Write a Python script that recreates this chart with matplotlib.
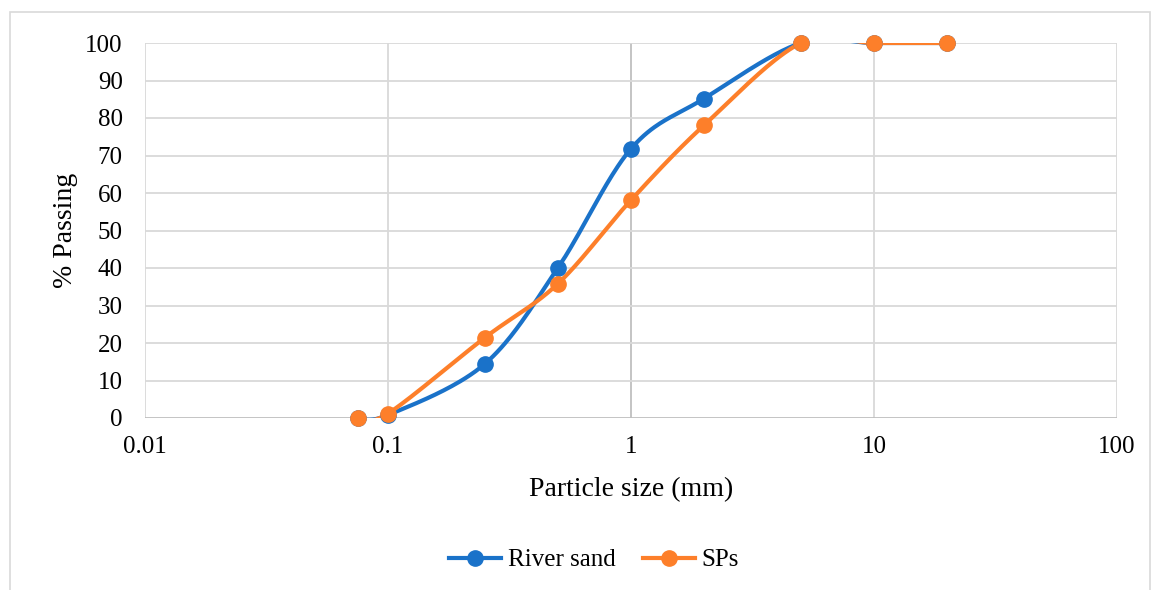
import numpy as np
import matplotlib
matplotlib.use("Agg")
import matplotlib.pyplot as plt
from matplotlib.patches import Rectangle

plt.rcParams['font.family'] = ['Liberation Serif', 'DejaVu Serif']

sizes = [0.075, 0.1, 0.25, 0.5, 1, 2, 5, 10, 20]
river_sand = [0, 0.8, 14.4, 40, 71.8, 85.2, 100, 100, 100]
sps = [0, 1.2, 21.4, 35.8, 58.1, 78.1, 100, 100, 100]
x_ticks = [0.01, 0.1, 1, 10, 100]
x_tick_labels = ["0.01", "0.1", "1", "10", "100"]
y_ticks = list(range(0, 101, 10))

blue = "#1a72c9"
orange = "#fd7f2a"


def smooth(xs, ys, n=40):
    # Catmull-Rom style smoothing in (log10 x, y) space, like Excel's smoothed lines
    lx = np.log10(np.asarray(xs, float))
    y = np.asarray(ys, float)
    P = np.column_stack([lx, y])
    out = []
    for i in range(len(P) - 1):
        p0 = P[i - 1] if i > 0 else P[i]
        p1 = P[i]
        p2 = P[i + 1]
        p3 = P[i + 2] if i + 2 < len(P) else P[i + 1]
        c1 = p1 + (p2 - p0) / 6.0
        c2 = p2 - (p3 - p1) / 6.0
        t = np.linspace(0, 1, n)[:, None]
        seg = ((1 - t) ** 3) * p1 + 3 * ((1 - t) ** 2) * t * c1 + 3 * (1 - t) * t ** 2 * c2 + t ** 3 * p2
        out.append(seg if i == 0 else seg[1:])
    S = np.vstack(out)
    return 10 ** S[:, 0], S[:, 1]


fig = plt.figure(figsize=(11.57, 5.9), dpi=100)
fig.patches.append(Rectangle((10 / 1157, -0.05), (1150 - 10) / 1157, 1.05 - 12 / 590,
                             transform=fig.transFigure, fill=False,
                             edgecolor="#d9d9d9", linewidth=1.2))
ax = fig.add_axes([145 / 1157, 1 - 418 / 590, (1117 - 145) / 1157, (418 - 43) / 590])

ax.set_xscale("log")
ax.set_xlim(0.01, 100)
ax.set_ylim(0, 100)

for xv in x_ticks:
    ax.axvline(xv, color="#bfbfbf" if xv == 1 else "#d9d9d9", lw=1.3, zorder=0)
for yv in y_ticks:
    ax.axhline(yv, color="#bfbfbf" if yv == 0 else "#d9d9d9", lw=1.3, zorder=0)

for vals, col, lab in [(river_sand, blue, "River sand"), (sps, orange, "SPs")]:
    sx, sy = smooth(sizes, vals)
    ax.plot(sx, sy, color=col, lw=3, solid_capstyle="round", zorder=3)
    ax.plot(sizes, vals, "o", color=col, ms=11, zorder=4, clip_on=False)
    ax.plot([], [], "-o", color=col, lw=3, ms=11, label=lab)

for s in ax.spines.values():
    s.set_visible(False)

ax.set_xticks(x_ticks)
ax.set_xticklabels(x_tick_labels)
ax.minorticks_off()
ax.set_yticks(y_ticks)
ax.tick_params(axis="both", length=0, labelsize=18, colors="black")
ax.tick_params(axis="x", pad=13)
ax.tick_params(axis="y", pad=16)

ax.set_xlabel("Particle size (mm)", fontsize=20, labelpad=14)
ax.set_ylabel("% Passing", fontsize=20, labelpad=5)

leg = fig.legend(loc="center", bbox_to_anchor=(594 / 1157, 1 - 560 / 590), ncol=2,
                 frameon=False, fontsize=18, handlelength=2.1, columnspacing=1.1,
                 handletextpad=0.25)

fig.savefig("out.png", dpi=100)
